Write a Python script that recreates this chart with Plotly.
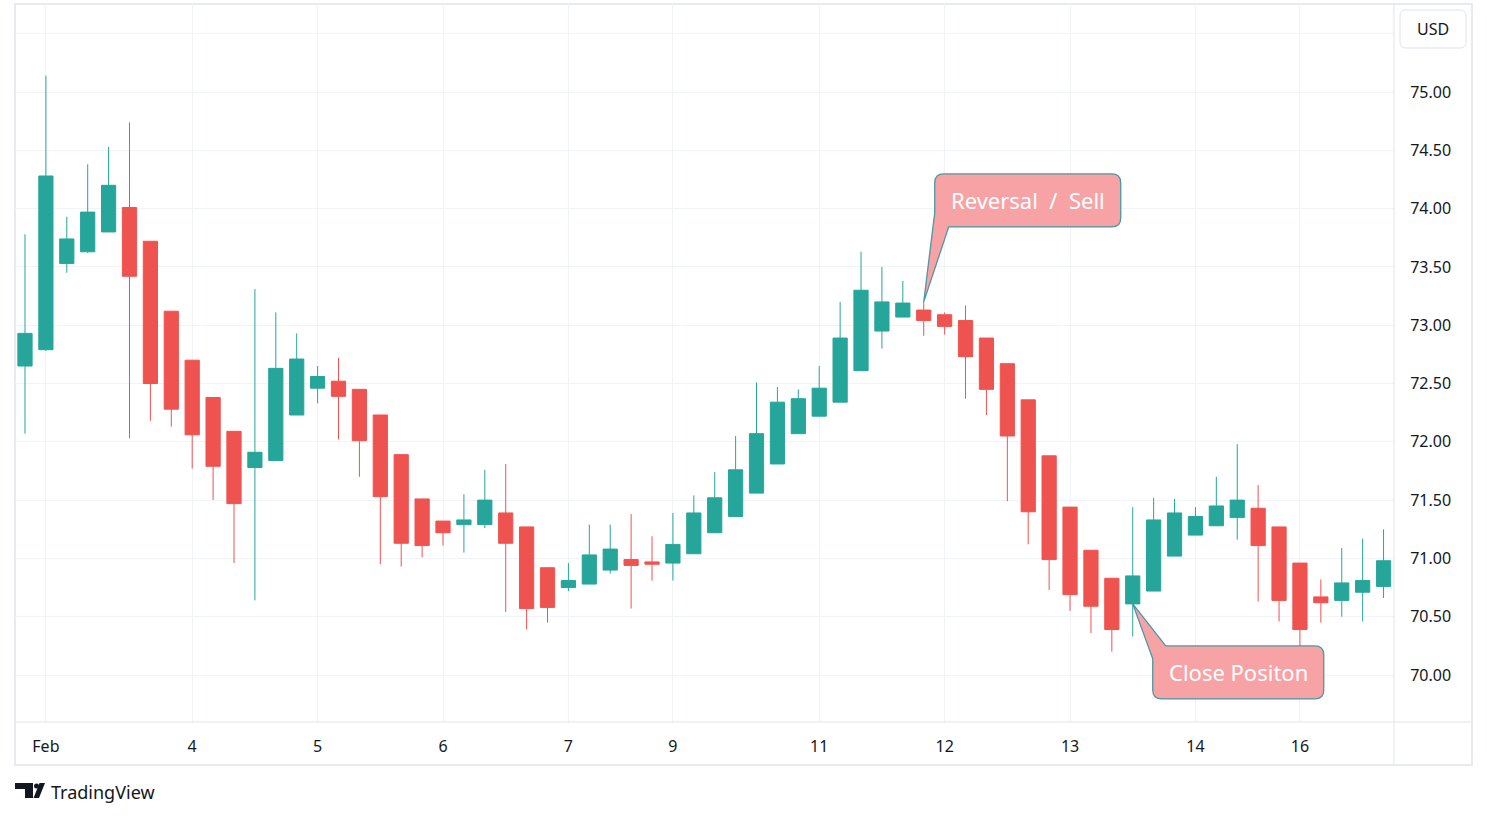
import plotly.graph_objects as go

# 4h candles (Feb, USD)
opens = [72.65, 72.79, 73.53, 73.63, 73.80, 74.01, 73.72, 73.12, 72.70, 72.38,
         72.09, 71.78, 71.84, 72.23, 72.46, 72.52, 72.45, 72.23, 71.89, 71.51,
         71.32, 71.29, 71.29, 71.39, 71.27, 70.92, 70.75, 70.78, 70.90, 70.99,
         70.97, 70.96, 71.04, 71.22, 71.36, 71.56, 71.81, 72.07, 72.22, 72.34,
         72.61, 72.95, 73.07, 73.13, 73.09, 73.04, 72.89, 72.67, 72.36, 71.88,
         71.44, 71.07, 70.83, 70.61, 70.72, 71.02, 71.20, 71.28, 71.35, 71.43,
         71.27, 70.96, 70.67, 70.64, 70.71, 70.76]
highs = [73.78, 75.14, 73.93, 74.38, 74.53, 74.74, 73.72, 73.12, 72.70, 72.38,
         72.09, 73.31, 73.11, 72.93, 72.65, 72.72, 72.45, 72.23, 71.89, 71.51,
         71.32, 71.55, 71.76, 71.81, 71.27, 70.92, 70.96, 71.29, 71.29, 71.38,
         71.19, 71.39, 71.54, 71.74, 72.05, 72.51, 72.47, 72.45, 72.65, 73.20,
         73.63, 73.50, 73.38, 73.20, 73.11, 73.17, 72.89, 72.67, 72.36, 71.88,
         71.44, 71.07, 70.83, 71.44, 71.52, 71.51, 71.44, 71.70, 71.98, 71.63,
         71.27, 70.96, 70.82, 71.09, 71.17, 71.25]
lows = [72.07, 72.78, 73.45, 73.62, 73.80, 72.03, 72.18, 72.13, 71.77, 71.50,
        70.96, 70.64, 71.84, 72.23, 72.33, 72.02, 71.70, 70.95, 70.93, 71.01,
        71.11, 71.05, 71.26, 70.54, 70.39, 70.45, 70.72, 70.78, 70.87, 70.57,
        70.81, 70.81, 71.04, 71.22, 71.36, 71.56, 71.81, 72.07, 72.22, 72.34,
        72.61, 72.80, 73.07, 72.91, 72.92, 72.37, 72.23, 71.49, 71.12, 70.73,
        70.55, 70.36, 70.20, 70.33, 70.72, 71.02, 71.20, 71.28, 71.16, 70.63,
        70.46, 70.10, 70.45, 70.50, 70.46, 70.66]
closes = [72.93, 74.28, 73.74, 73.97, 74.20, 73.42, 72.50, 72.28, 72.06, 71.79,
          71.47, 71.91, 72.63, 72.71, 72.56, 72.39, 72.01, 71.53, 71.13, 71.11,
          71.22, 71.33, 71.50, 71.13, 70.57, 70.58, 70.81, 71.03, 71.08, 70.94,
          70.95, 71.12, 71.39, 71.52, 71.76, 72.07, 72.34, 72.37, 72.46, 72.89,
          73.30, 73.20, 73.19, 73.04, 72.99, 72.73, 72.45, 72.05, 71.40, 70.99,
          70.69, 70.59, 70.39, 70.85, 71.33, 71.39, 71.36, 71.45, 71.50, 71.11,
          70.64, 70.39, 70.62, 70.79, 70.81, 70.98]
bars = list(range(len(opens)))

# time axis labels (bar index -> day)
tick_pos = [1, 8, 14, 20, 26, 31, 38, 44, 50, 56, 61]
tick_text = ['Feb', '4', '5', '6', '7', '9', '11', '12', '13', '14', '16']

price_ticks = [70.0, 70.5, 71.0, 71.5, 72.0, 72.5, 73.0, 73.5, 74.0, 74.5, 75.0, 75.5]
price_text = [f'{p:.2f}' for p in price_ticks[:-1]] + ['']

# callouts: (label, bar index, price the pointer touches)
callouts = [('Reversal\u00a0 /\u00a0 Sell', 43, highs[43]),
            ('Close Positon', 53, opens[53])]

W, H = 1487, 818
L, R, T, B = 15, 93, 4, 96
x_range = [-0.478, 65.5]
y_range = [69.597, 75.755]
pw, ph = W - L - R, H - T - B

UP, DOWN = '#26A69A', '#EF5350'
TXT = '#131722'
FONT = 'Noto Sans'


def px(x):
    return (x - L) / pw


def py(y):
    return (H - B - y) / ph


def to_pixels(i, p):
    xp = L + (i - x_range[0]) / (x_range[1] - x_range[0]) * pw
    yp = T + (y_range[1] - p) / (y_range[1] - y_range[0]) * ph
    return xp, yp


def path(points):
    # points: list of ('M'|'L'|'Q', coords...) in pixels -> paper path
    out = []
    for cmd, *c in points:
        pts = ' '.join(f'{px(c[k]):.5f},{py(c[k + 1]):.5f}' for k in range(0, len(c), 2))
        out.append(f'{cmd} {pts}')
    return ' '.join(out) + ' Z'


fig = go.Figure(go.Candlestick(
    x=bars, open=opens, high=highs, low=lows, close=closes,
    increasing=dict(line=dict(color=UP, width=1), fillcolor=UP),
    decreasing=dict(line=dict(color=DOWN, width=1), fillcolor=DOWN),
    whiskerwidth=0, showlegend=False, hoverinfo='skip'))

shapes = []
annotations = []

# outer frame and pane separators
shapes.append(dict(type='rect', xref='paper', yref='paper', x0=px(15), x1=px(1472), y0=py(765), y1=py(4),
                   line=dict(color='#E0E3EB', width=1.5), layer='below'))
shapes.append(dict(type='line', xref='paper', yref='paper', x0=px(1394), x1=px(1394), y0=py(765), y1=py(4),
                   line=dict(color='#E0E3EB', width=1)))
shapes.append(dict(type='line', xref='paper', yref='paper', x0=px(15), x1=px(1472), y0=py(722), y1=py(722),
                   line=dict(color='#E0E3EB', width=1)))

# callout bubbles
tx, ty = to_pixels(callouts[0][1], callouts[0][2])
bx0, bx1, by0, by1, r = tx + 11, tx + 197, ty - 128, ty - 75, 9
shapes.append(dict(type='path', xref='paper', yref='paper', path=path([
    ('M', bx0 + r, by0), ('L', bx1 - r, by0), ('Q', bx1, by0, bx1, by0 + r),
    ('L', bx1, by1 - r), ('Q', bx1, by1, bx1 - r, by1), ('L', tx + 25, by1),
    ('L', tx, ty), ('L', bx0, ty - 89), ('L', bx0, by0 + r), ('Q', bx0, by0, bx0 + r, by0)]),
    fillcolor='#F7A3A6', line=dict(color='#4A97A6', width=1.3)))
annotations.append(dict(xref='paper', yref='paper', x=px((bx0 + bx1) / 2), y=py((by0 + by1) / 2),
                        text=callouts[0][0], showarrow=False, xanchor='center', yanchor='middle',
                        font=dict(family=FONT, size=22, color='white')))

tx, ty = to_pixels(callouts[1][1], callouts[1][2])
bx0, bx1, by0, by1 = tx + 20, tx + 191, ty + 42, ty + 95
shapes.append(dict(type='path', xref='paper', yref='paper', path=path([
    ('M', tx + 33, by0), ('L', bx1 - r, by0), ('Q', bx1, by0, bx1, by0 + r),
    ('L', bx1, by1 - r), ('Q', bx1, by1, bx1 - r, by1), ('L', bx0 + r, by1),
    ('Q', bx0, by1, bx0, by1 - r), ('L', bx0, ty + 55), ('L', tx, ty)]),
    fillcolor='#F7A3A6', line=dict(color='#4A97A6', width=1.3)))
annotations.append(dict(xref='paper', yref='paper', x=px((bx0 + bx1) / 2), y=py((by0 + by1) / 2),
                        text=callouts[1][0], showarrow=False, xanchor='center', yanchor='middle',
                        font=dict(family=FONT, size=22, color='white')))

# currency badge
ux0, ux1, uy0, uy1, ur = 1400, 1466, 10, 48, 6
shapes.append(dict(type='path', xref='paper', yref='paper', path=path([
    ('M', ux0 + ur, uy0), ('L', ux1 - ur, uy0), ('Q', ux1, uy0, ux1, uy0 + ur),
    ('L', ux1, uy1 - ur), ('Q', ux1, uy1, ux1 - ur, uy1), ('L', ux0 + ur, uy1),
    ('Q', ux0, uy1, ux0, uy1 - ur), ('L', ux0, uy0 + ur), ('Q', ux0, uy0, ux0 + ur, uy0)]),
    fillcolor='white', line=dict(color='#E0E3EB', width=1)))
annotations.append(dict(xref='paper', yref='paper', x=px(1433), y=py(29), text='USD', showarrow=False,
                        xanchor='center', yanchor='middle', font=dict(family=FONT, size=16, color=TXT)))

# TradingView logo mark
shapes.append(dict(type='path', xref='paper', yref='paper', fillcolor=TXT, line=dict(width=0), path=path([
    ('M', 15, 783), ('L', 33, 783), ('L', 33, 798), ('L', 25, 798), ('L', 25, 789), ('L', 15, 789)])))
shapes.append(dict(type='circle', xref='paper', yref='paper', fillcolor=TXT, line=dict(width=0),
                   x0=px(34), x1=px(39), y0=py(788.5), y1=py(783.5)))
shapes.append(dict(type='path', xref='paper', yref='paper', fillcolor=TXT, line=dict(width=0), path=path([
    ('M', 39.5, 783), ('L', 45, 783), ('L', 39, 798), ('L', 33.5, 798)])))
annotations.append(dict(xref='paper', yref='paper', x=px(49), y=py(792), text='TradingView', showarrow=False,
                        xanchor='left', yanchor='middle', font=dict(family=FONT, size=18, color=TXT)))

fig.update_layout(
    width=W, height=H, margin=dict(l=L, r=R, t=T, b=B),
    paper_bgcolor='white', plot_bgcolor='white',
    font=dict(family=FONT, size=16, color=TXT),
    shapes=shapes, annotations=annotations, boxgap=0.32, boxgroupgap=0,
    xaxis=dict(range=x_range, tickvals=tick_pos, ticktext=tick_text, showgrid=True, gridcolor='#F0F3FA',
               zeroline=False, ticks='outside', ticklen=10, tickcolor='rgba(0,0,0,0)',
               rangeslider=dict(visible=False), fixedrange=True),
    yaxis=dict(range=y_range, side='right', tickvals=price_ticks, ticktext=price_text, showgrid=True,
               gridcolor='#F0F3FA', zeroline=False, ticks='outside', ticklen=12, tickcolor='rgba(0,0,0,0)',
               fixedrange=True),
)

# the page's default body margin would shift the chart by 8px
fig.write_html('out.html', config={'displayModeBar': False},
               post_script="document.body.style.margin='0px';")
